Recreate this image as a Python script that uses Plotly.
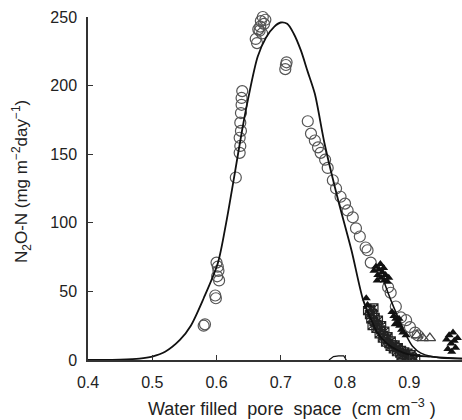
import plotly.graph_objects as go

# Fitted model curve
curve_x = [0.40, 0.45, 0.48, 0.50, 0.52, 0.543, 0.56, 0.58, 0.602, 0.615, 0.628, 0.64, 0.649,
           0.664, 0.677, 0.690, 0.700, 0.710, 0.720, 0.731, 0.742, 0.753, 0.768, 0.789, 0.81,
           0.828, 0.840, 0.851, 0.865, 0.882, 0.90, 0.933, 0.96, 0.985]
curve_y = [0, 0.3, 1, 2.5, 6, 14.6, 25, 45, 70.5, 100, 135, 168, 190,
           221, 235, 243, 246, 245, 238, 226, 210, 194, 158, 117, 80,
           44, 30, 19.5, 12, 7, 4, 2.4, 1.5, 1]

# Second (lower-right) curve
curve2_x = [0.860, 0.871, 0.882, 0.895, 0.905, 0.918, 0.935, 0.95, 0.985]
curve2_y = [58, 44, 31.6, 18, 10, 5, 2.5, 1.5, 1]

# Tiny curve near 0.8
curve3_x = [0.775, 0.782, 0.79, 0.798, 0.802]
curve3_y = [0, 2.5, 3, 3, 0]

# Open circles
circ_x = [0.582, 0.580, 0.598, 0.599, 0.600, 0.602, 0.603, 0.601, 0.604,
          0.630, 0.636, 0.637, 0.636, 0.638, 0.637, 0.638, 0.639, 0.639, 0.640,
          0.661, 0.663, 0.665, 0.667, 0.669, 0.672, 0.674, 0.668, 0.676, 0.671,
          0.708, 0.707, 0.709,
          0.742, 0.747, 0.753, 0.758, 0.762, 0.769, 0.773, 0.781, 0.786, 0.793,
          0.800, 0.804, 0.812, 0.817, 0.823, 0.832, 0.835, 0.840,
          0.867, 0.871, 0.879, 0.887, 0.895, 0.901, 0.909, 0.913]
circ_y = [26, 25, 47, 45, 71, 68, 65, 61, 58,
          133, 151, 156, 162, 167, 173, 180, 186, 191, 196,
          234, 231, 241, 240, 247, 250, 245, 243, 248, 238,
          215, 212, 217,
          174, 165, 160, 155, 151, 146, 140, 131, 125, 119,
          114, 109, 104, 96, 90, 82, 80, 71,
          53, 49, 39, 31, 29, 24, 20, 18]

# Filled triangles
tri_x = [0.833, 0.835, 0.845, 0.848, 0.851, 0.853, 0.856, 0.858, 0.861, 0.863, 0.866, 0.868,
         0.850, 0.860, 0.855,
         0.873, 0.876, 0.879, 0.882, 0.885, 0.888, 0.878, 0.884, 0.890, 0.895,
         0.958, 0.962, 0.965, 0.968, 0.970, 0.972, 0.975, 0.960, 0.966]
tri_y = [45, 40, 65, 68, 62, 66, 60, 64, 58, 62, 57, 60,
         58, 67, 70,
         35, 32, 30, 27, 25, 22, 26, 30, 20, 18,
         15, 18, 12, 20, 14, 9, 16, 8, 6]

# Open triangles
otri_x = [0.912, 0.921, 0.932]
otri_y = [18, 16, 16]

# Hatched squares
sq_x = [0.835, 0.838, 0.840, 0.843, 0.845, 0.847, 0.850, 0.852, 0.855, 0.857, 0.860, 0.862,
        0.865, 0.868, 0.870, 0.875, 0.880, 0.885, 0.890, 0.895, 0.900, 0.905, 0.910,
        0.872, 0.878, 0.883, 0.888, 0.893, 0.898, 0.840, 0.845,
        0.842, 0.848, 0.853, 0.858, 0.863, 0.867, 0.874, 0.880, 0.887, 0.903]
sq_y = [36, 33, 30, 34, 28, 31, 26, 29, 22, 25, 18, 21,
        15, 12, 10, 8, 6, 5, 4, 3, 2, 2, 1,
        14, 11, 9, 7, 6, 5, 37, 38,
        25, 23, 19, 16, 13, 17, 11, 9, 3, 4]

x_ticks = [0.4, 0.5, 0.6, 0.7, 0.8, 0.9]
y_ticks = [0, 50, 100, 150, 200, 250]

fig = go.Figure()
fig.add_trace(go.Scatter(x=circ_x, y=circ_y, mode="markers", cliponaxis=False,
                         marker=dict(symbol="circle-open", size=11, color="#555",
                                     line=dict(width=1.2, color="#555"))))
fig.add_trace(go.Scatter(x=sq_x, y=sq_y, mode="markers",
                         marker=dict(symbol="square-x-open", size=8, color="#222",
                                     line=dict(width=1.2, color="#222"))))
fig.add_trace(go.Scatter(x=tri_x, y=tri_y, mode="markers",
                         marker=dict(symbol="triangle-up", size=8, color="#111")))
fig.add_trace(go.Scatter(x=otri_x, y=otri_y, mode="markers",
                         marker=dict(symbol="triangle-up-open", size=10, color="#444",
                                     line=dict(width=1.2, color="#444"))))
fig.add_trace(go.Scatter(x=curve_x, y=curve_y, mode="lines",
                         line=dict(color="#111", width=1.8, shape="spline", smoothing=0.8)))
fig.add_trace(go.Scatter(x=curve2_x, y=curve2_y, mode="lines",
                         line=dict(color="#111", width=1.5, shape="spline", smoothing=0.8)))
fig.add_trace(go.Scatter(x=curve3_x, y=curve3_y, mode="lines",
                         line=dict(color="#111", width=1.2)))

font = "Liberation Sans, Arial, sans-serif"
fig.update_layout(
    width=462, height=420,
    margin=dict(l=88, r=0, t=17, b=60),
    paper_bgcolor="white", plot_bgcolor="white",
    showlegend=False,
    font=dict(family=font, size=16, color="#222"),
    xaxis=dict(range=[0.4, 0.982], tickvals=x_ticks, ticktext=[str(v) for v in x_ticks],
               ticks="inside", ticklen=5, tickcolor="#333", showgrid=False, zeroline=False,
               showline=True, linecolor="#333", linewidth=1.5, ticklabelstandoff=7,
               tickfont=dict(size=16)),
    yaxis=dict(range=[0, 250], tickvals=y_ticks, ticks="inside", ticklen=5, tickcolor="#333",
               showgrid=False, zeroline=False, showline=True, linecolor="#333", linewidth=1.5,
               ticklabelstandoff=6, tickfont=dict(size=16)),
)
fig.add_annotation(text="N<sub>2</sub>O-N (mg m<sup>−2</sup>day<sup>−1</sup>)", xref="paper", yref="paper",
                   x=(21 - 88) / 374, y=(360 - 182) / 343, showarrow=False, textangle=-90,
                   xanchor="center", yanchor="middle",
                   font=dict(size=17, family=font, color="#222"))
fig.add_annotation(text="Water filled  pore  space  (cm cm<sup>−3</sup> )", xref="paper", yref="paper",
                   x=(292 - 88) / 374, y=-47 / 343, showarrow=False, xanchor="center", yanchor="middle",
                   font=dict(size=18, family=font, color="#222"))
fig.write_html("out.html")
